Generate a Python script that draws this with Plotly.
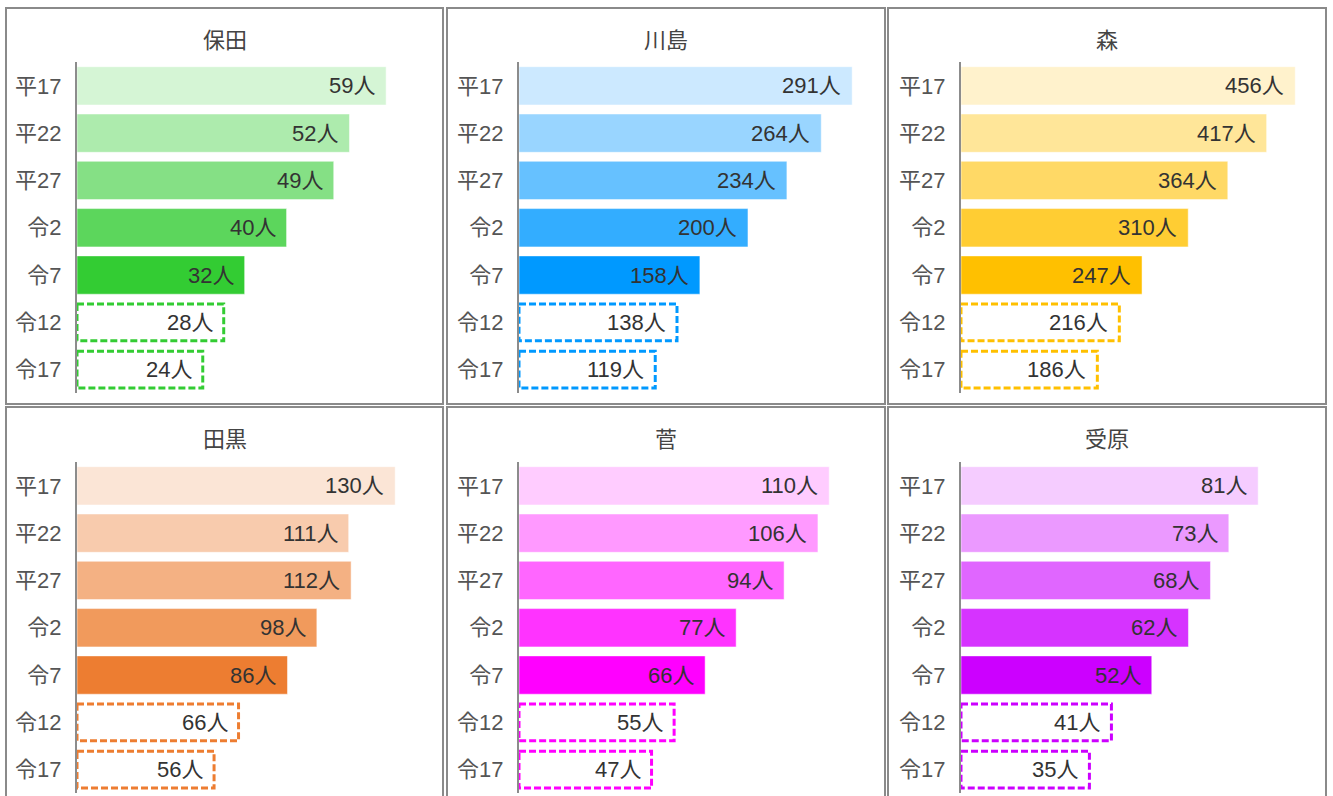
import plotly.graph_objects as go

W, H = 1333, 796
OFF = 0  # body margin removed via post_script

periods = ["平17", "平22", "平27", "令2", "令7", "令12", "令17"]
regions = ["保田", "川島", "森", "田黒", "菅", "受原"]

hota = [59, 52, 49, 40, 32, 28, 24]
kawashima = [291, 264, 234, 200, 158, 138, 119]
mori = [456, 417, 364, 310, 247, 216, 186]
taguro = [130, 111, 112, 98, 86, 66, 56]
suga = [110, 106, 94, 77, 66, 55, 47]
ukehara = [81, 73, 68, 62, 52, 41, 35]
values = [hota, kawashima, mori, taguro, suga, ukehara]

# number of actual (solid) values; the rest are projections (dashed)
n_actual = 5

green = ["#d5f5d5", "#adebad", "#85e085", "#5cd65c", "#33cc33"]
blue = ["#cce9ff", "#99d5ff", "#66c1ff", "#33adff", "#0099ff"]
yellow = ["#fff2cc", "#ffe699", "#ffd966", "#ffcd33", "#ffc000"]
orange = ["#fbe5d6", "#f8cbad", "#f4b183", "#f19a5c", "#ed7d31"]
magenta = ["#ffccff", "#ff99ff", "#ff66ff", "#ff33ff", "#ff00ff"]
purple = ["#f5ccff", "#eb99ff", "#e066ff", "#d633ff", "#cc00ff"]
palettes = [green, blue, yellow, orange, magenta, purple]

# layout (pixels, page coordinates)
axis_px = [77, 519, 961]
panel_x = [(6, 443), (447, 885), (888, 1326)]
panel_y = [(8, 404), (407, 803)]
plot_w = 350
xmax = [66.8, 305.7, 477.5, 143.0, 124.1, 95.4]
FONT = "Liberation Sans, Noto Sans CJK JP, sans-serif"


def px(x):
    return (x - OFF) / W


def py(y):
    return 1 - (y - OFF) / H


fig = go.Figure()
shapes = []
annotations = []
layout_axes = {}

for i, (name, vals, pal) in enumerate(zip(regions, values, palettes)):
    r, c = divmod(i, 3)
    n = i + 1
    xa = "x" if n == 1 else f"x{n}"
    ya = "y" if n == 1 else f"y{n}"
    idx = list(range(len(periods)))
    bar_colors = pal + ["rgba(255,255,255,0)"] * (len(periods) - n_actual)
    fig.add_trace(go.Bar(
        x=vals, y=idx, orientation="h",
        marker=dict(color=bar_colors, line=dict(color="rgba(255,255,255,0.5)", width=1)),
        xaxis=xa, yaxis=ya, showlegend=False, hoverinfo="skip",
    ))
    top = 62.2 + 400 * r
    bot = 393.3 + 400 * r
    layout_axes["xaxis" if n == 1 else f"xaxis{n}"] = dict(
        domain=[px(axis_px[c]), px(axis_px[c] + plot_w)], range=[0, xmax[i]],
        visible=False, anchor=ya, fixedrange=True)
    layout_axes["yaxis" if n == 1 else f"yaxis{n}"] = dict(
        domain=[py(bot), py(top)], range=[6.5, -0.5], anchor=xa,
        tickvals=idx, ticktext=periods, showline=True, linecolor="#8c8c8c", linewidth=2,
        showgrid=False, zeroline=False, ticks="", ticklabelstandoff=9,
        tickfont=dict(family=FONT, size=22, color="#555555"), fixedrange=True)

    # dashed outlines for projected values
    for k in range(n_actual, len(periods)):
        shapes.append(dict(type="rect", xref=xa, yref=ya, x0=0, x1=vals[k],
                           y0=k - 0.39, y1=k + 0.39,
                           line=dict(color=pal[-1], width=3, dash="7px,3px"),
                           fillcolor="rgba(255,255,255,0)"))
    # value labels
    for k, v in enumerate(vals):
        annotations.append(dict(xref=xa, yref=ya, x=v, y=k, text=f"{v}人",
                                xanchor="right", yanchor="middle", xshift=-9,
                                showarrow=False,
                                font=dict(family=FONT, size=22, color="#333333")))
    # panel title
    px0, px1 = panel_x[c]
    py0, py1 = panel_y[r]
    annotations.append(dict(xref="paper", yref="paper", x=px((px0 + px1) / 2),
                            y=py(40 + 400 * r), text=name, showarrow=False,
                            xanchor="center", yanchor="middle",
                            font=dict(family=FONT, size=22, color="#444444")))
    # panel frame
    shapes.append(dict(type="rect", xref="paper", yref="paper",
                       x0=px(px0), x1=px(px1), y0=py(py1), y1=py(py0),
                       line=dict(color="#8a8a8a", width=2), layer="below"))

fig.update_layout(
    width=W, height=H, margin=dict(l=0, r=0, t=0, b=0),
    paper_bgcolor="white", plot_bgcolor="white",
    bargap=0.19, shapes=shapes, annotations=annotations,
    font=dict(family=FONT), **layout_axes,
)

fig.write_html("out.html", config={"displayModeBar": False},
               post_script="document.body.style.margin='0px';document.body.style.overflow='hidden';")
